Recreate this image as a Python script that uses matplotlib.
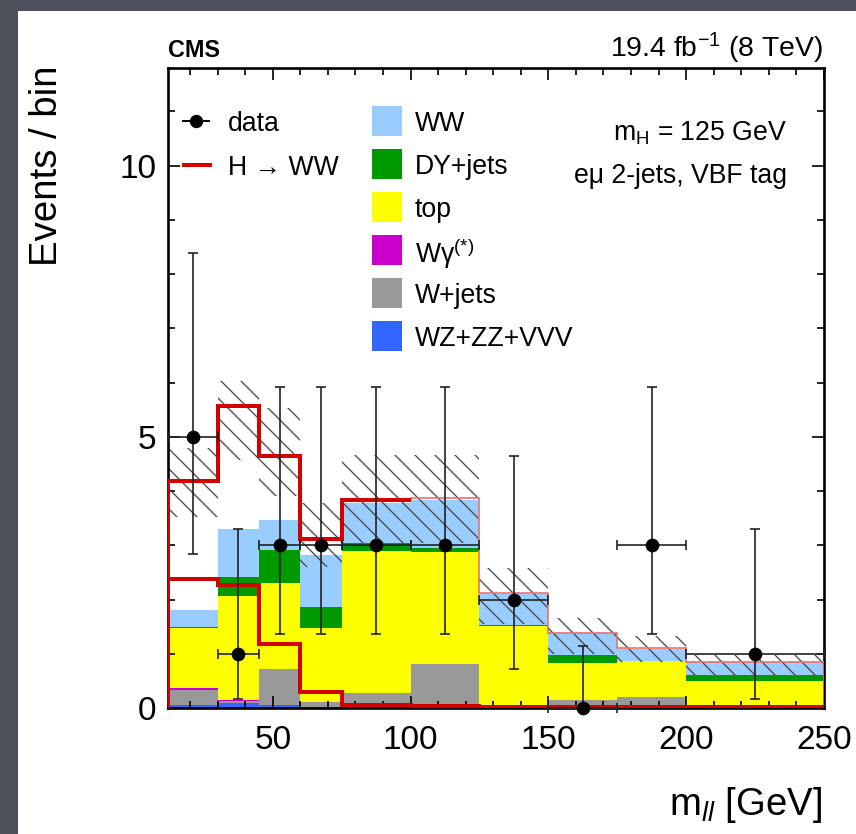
import numpy as np
import matplotlib.pyplot as plt
from matplotlib.patches import Rectangle
from matplotlib.lines import Line2D
from matplotlib.ticker import MultipleLocator

plt.rcParams['font.family'] = ['Liberation Sans', 'DejaVu Sans']
plt.rcParams['mathtext.fontset'] = 'custom'
plt.rcParams['mathtext.rm'] = 'Liberation Sans'
plt.rcParams['mathtext.it'] = 'Liberation Sans:italic'
plt.rcParams['mathtext.bf'] = 'Liberation Sans:bold'
plt.rcParams['hatch.linewidth'] = 0.8

# m_ll binning (GeV)
edges = np.array([12, 30, 45, 60, 75, 100, 125, 150, 175, 200, 250])

# expected events per bin, stacked bottom to top
vvv = np.array([0.05, 0.10, 0.05, 0.02, 0.02, 0.06, 0.02, 0.01, 0.01, 0.01])
wjets = np.array([0.28, 0.02, 0.67, 0.09, 0.26, 0.75, 0.00, 0.14, 0.19, 0.00])
wgamma = np.array([0.03, 0.02, 0.00, 0.00, 0.00, 0.00, 0.00, 0.00, 0.00, 0.00])
top = np.array([1.11, 1.93, 1.59, 1.36, 2.62, 2.07, 1.49, 0.68, 0.67, 0.49])
dy = np.array([0.03, 0.35, 0.61, 0.39, 0.14, 0.07, 0.02, 0.15, 0.00, 0.10])
ww = np.array([0.31, 0.88, 0.55, 0.96, 0.74, 0.89, 0.57, 0.40, 0.22, 0.24])
signal = np.array([2.38, 2.27, 1.18, 0.30, 0.05, 0.03, 0.02, 0.01, 0.01, 0.01])

# uncertainty band on the total
band_lo = np.array([3.53, 4.58, 3.90, 2.60, 3.04, 3.05, 1.55, 1.00, 0.85, 0.60])
band_hi = np.array([4.80, 6.02, 5.53, 3.78, 4.67, 4.67, 2.58, 1.66, 1.33, 0.98])

# observed data with Poisson intervals
data = np.array([5, 1, 3, 3, 3, 3, 2, 0, 3, 1])
data_lo = np.array([2.84, 0.17, 1.37, 1.37, 1.37, 1.37, 0.71, 0.00, 1.37, 0.17])
data_hi = np.array([8.38, 3.30, 5.92, 5.92, 5.92, 5.92, 4.64, 1.15, 5.92, 3.30])

labels = ['WW', 'DY+jets', 'top', 'Wγ$^{(*)}$', 'W+jets', 'WZ+ZZ+VVV']
colors = ['#99ccff', '#009900', '#ffff00', '#cc00cc', '#999999', '#3366ff']
red = '#d40000'

W, H, DPI = 856, 834, 120


def fx(px):
    return px / W


def fy(py):
    return 1 - py / H


fig = plt.figure(figsize=(W / DPI, H / DPI), dpi=DPI, facecolor='#4d505b')
fig.add_artist(Rectangle((fx(18), 0), 1, fy(11), transform=fig.transFigure,
                         facecolor='white', edgecolor='none', zorder=-1))
ax = fig.add_axes([fx(168), fy(708), fx(824) - fx(168), fy(68) - fy(708)])

widths = np.diff(edges)
bottom = np.zeros(len(vvv))
stack = [(vvv, colors[5]), (wjets, colors[4]), (wgamma, colors[3]),
         (top, colors[2]), (dy, colors[1]), (ww, colors[0])]
for vals, c in stack:
    ax.bar(edges[:-1], vals, width=widths, bottom=bottom, align='edge',
           color=c, lw=0, zorder=1)
    bottom = bottom + vals
total = bottom + signal

ax.bar(edges[:-1], band_hi - band_lo, width=widths, bottom=band_lo, align='edge',
       facecolor='none', edgecolor='#4a4a4a', hatch='\\\\', lw=0, zorder=2)

# signal stacked on the background, and signal alone
ax.stairs(total, edges, baseline=0, color='#e87070', lw=1, zorder=3)
n_sig = int(np.sum(signal >= 0.05))
ax.stairs(total[:n_sig], edges[:n_sig + 1], baseline=None, color=red, lw=2.4, zorder=3)
ax.vlines(edges[0], 0, total[0], color=red, lw=2.4, zorder=3)
ax.stairs(signal, edges, baseline=0, color=red, lw=2.4, zorder=3)

centers = (edges[:-1] + edges[1:]) / 2
ax.errorbar(centers, data, yerr=[data - data_lo, data_hi - data], xerr=widths / 2,
            fmt='o', color='black', ms=7.2, ecolor='#222222', elinewidth=1,
            capsize=3, capthick=1, clip_on=False, zorder=5)

ax.set_xlim(12, 250)
ax.set_ylim(0, 11.8)
ax.set_xticks([50, 100, 150, 200, 250])
ax.set_yticks([0, 5, 10])
ax.xaxis.set_minor_locator(MultipleLocator(10))
ax.yaxis.set_minor_locator(MultipleLocator(1))
ax.tick_params(which='both', direction='in', top=True, right=True, width=1,
               labelsize=20, colors='black')
ax.tick_params(which='major', length=7.2)
ax.tick_params(which='minor', length=4.2)
ax.tick_params(axis='y', pad=7)
ax.tick_params(axis='x', pad=10)
for sp in ax.spines.values():
    sp.set_linewidth(1.6)

fig.text(fx(47), fy(65), 'Events / bin', rotation=90, fontsize=23,
         ha='center', va='top')
fig.text(fx(822), fy(815), r'm$_{\mathit{ll}}$ [GeV]', fontsize=23,
         ha='right', va='baseline')
fig.text(fx(168), fy(57), 'CMS', weight='bold', fontsize=14,
         ha='left', va='baseline')
fig.text(fx(823), fy(57), '19.4 fb$^{-1}$ (8 TeV)', fontsize=17,
         ha='right', va='baseline')
fig.text(fx(787), fy(130), r'm$_{\mathrm{H}}$ = 125 GeV', fontsize=16,
         ha='right', va='center_baseline')
fig.text(fx(787), fy(173), 'eμ 2-jets, VBF tag', fontsize=16,
         ha='right', va='center_baseline')

# legend, left column
fig.add_artist(Line2D([fx(183), fx(209)], [fy(121), fy(121)], color='black', lw=1.2,
                      transform=fig.transFigure))
fig.add_artist(Line2D([fx(196)], [fy(121)], marker='o', ms=7, color='black',
                      transform=fig.transFigure))
fig.text(fx(228), fy(121), 'data', fontsize=16, va='center_baseline')
fig.add_artist(Line2D([fx(184), fx(210)], [fy(165), fy(165)], color=red, lw=2.4,
                      transform=fig.transFigure))
fig.text(fx(228), fy(165), 'H → WW', fontsize=16, va='center_baseline')

# legend, right column
for i, (lab, c) in enumerate(zip(labels, colors)):
    yc = 121 + 43 * i
    fig.add_artist(Rectangle((fx(372), fy(yc + 15)), fx(402) - fx(372), fy(yc - 15) - fy(yc + 15),
                             transform=fig.transFigure, facecolor=c, edgecolor='none'))
    fig.text(fx(415), fy(yc), lab, fontsize=16, va='center_baseline')

fig.savefig('out.png', dpi=DPI, facecolor=fig.get_facecolor())
